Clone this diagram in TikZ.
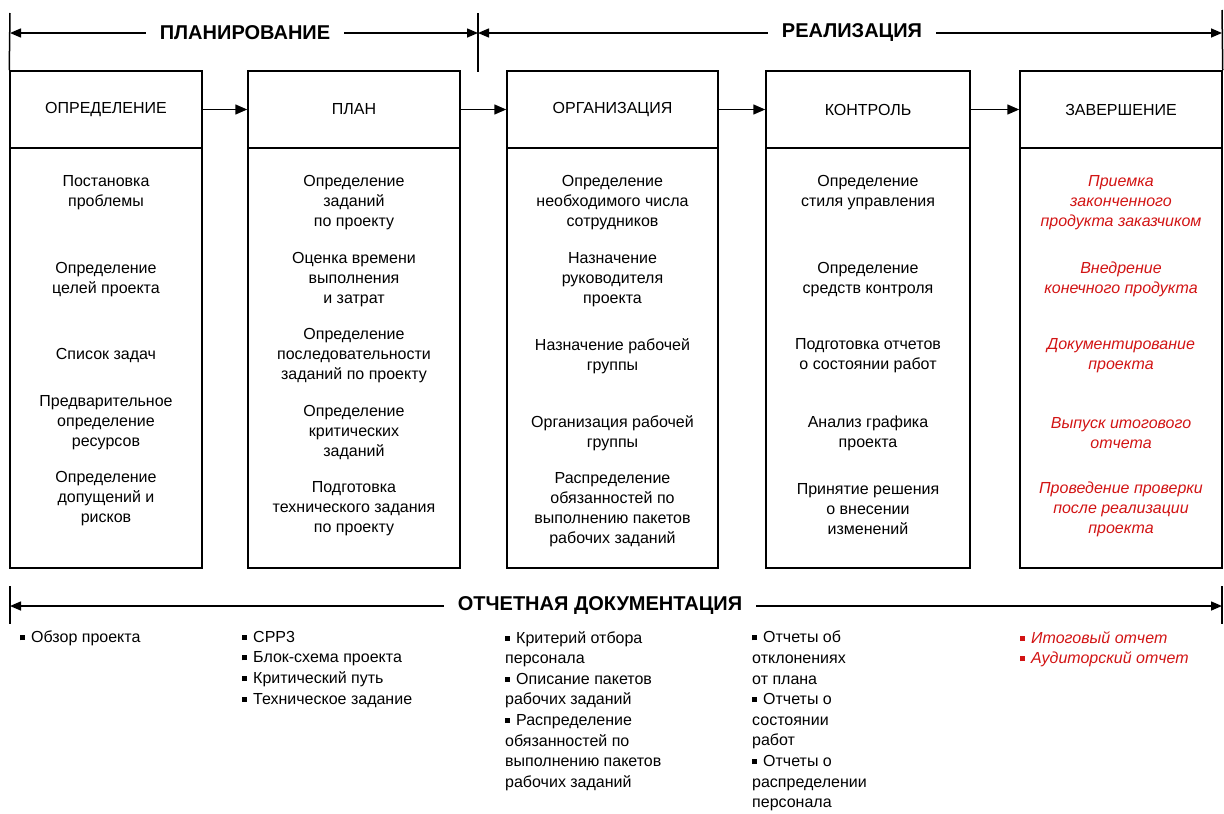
\documentclass[tikz,border=0pt]{standalone}
\usepackage{fontspec}
\setmainfont{Liberation Sans}
\usetikzlibrary{arrows.meta}
\definecolor{redt}{RGB}{210,20,20}
\newcommand{\sqb}{\raisebox{2.5pt}{\rule{5pt}{5pt}}\hspace{6pt}}
\begin{document}
\begin{tikzpicture}[x=1pt,y=-1pt,
  every node/.style={font=\fontsize{16}{20}\selectfont},
  hdr/.style={draw, line width=1.5pt, minimum height=77pt, inner sep=0pt},
  bodyb/.style={draw, line width=1.5pt, minimum height=420pt, inner sep=0pt},
  grp/.style={align=center, inner sep=0pt},
  rgrp/.style={grp, text=redt, font=\fontsize{16}{20}\selectfont\itshape},
  ttl/.style={font=\fontsize{20}{24}\selectfont\bfseries, fill=white, inner xsep=14pt, inner ysep=3pt},
  arr/.style={line width=1.5pt, -{Triangle[length=12pt,width=10pt]}},
  darr/.style={line width=1.5pt, {Triangle[length=11pt,width=9pt]}-{Triangle[length=11pt,width=9pt]}},
  ln/.style={line width=1.5pt},
  lst/.style={align=left, inner sep=0pt, anchor=north west, font=\fontsize{16}{20.6}\selectfont},
  rlst/.style={lst, text=redt, font=\fontsize{16}{20.6}\selectfont\itshape}
]
\useasboundingbox (0,0) rectangle (1224,814);

% headers
\node[hdr, minimum width=192pt] (h1) at (106,109.5) {ОПРЕДЕЛЕНИЕ};
\node[hdr, minimum width=212pt] (h2) at (354,109.5) {ПЛАН};
\node[hdr, minimum width=211pt] (h3) at (612.5,109.5) {ОРГАНИЗАЦИЯ};
\node[hdr, minimum width=204pt] (h4) at (868,109.5) {КОНТРОЛЬ};
\node[hdr, minimum width=202pt] (h5) at (1121,109.5) {ЗАВЕРШЕНИЕ};

% bodies
\node[bodyb, minimum width=192pt] (b1) at (106,358) {};
\node[bodyb, minimum width=212pt] (b2) at (354,358) {};
\node[bodyb, minimum width=211pt] (b3) at (612.5,358) {};
\node[bodyb, minimum width=204pt] (b4) at (868,358) {};
\node[bodyb, minimum width=202pt] (b5) at (1121,358) {};

% arrows between headers
\draw[arr] (h1.east) -- (h2.west);
\draw[arr] (h2.east) -- (h3.west);
\draw[arr] (h3.east) -- (h4.west);
\draw[arr] (h4.east) -- (h5.west);

% top phase arrows
\coordinate (tl) at (10,13);
\coordinate (tm) at (478,13);
\coordinate (tmb) at (478,72);
\coordinate (tr) at (1222,10);
\draw[ln] (tl) -- (h1.north west);
\draw[ln] (tm) -- (tmb);
\draw[ln] (tr) -- (h5.north east);
\coordinate (pa) at (10,33);
\coordinate (pb) at (478,33);
\coordinate (pc) at (1222,33);
\draw[darr] (pa) -- (pb);
\draw[darr] (pb) -- (pc);
\node[ttl] (plan) at (245,33) {ПЛАНИРОВАНИЕ};
\node[ttl] (real) at (852,33) {РЕАЛИЗАЦИЯ};

% box 1
\node[grp] (g11) at (106,193) {Постановка\\проблемы};
\node[grp] (g12) at (106,279.5) {Определение\\целей проекта};
\node[grp] (g13) at (106,356) {Список задач};
\node[grp] (g14) at (106,423) {Предварительное\\определение\\ресурсов};
\node[grp] (g15) at (106,499) {Определение\\допущений и\\рисков};

% box 2
\node[grp] (g21) at (354,202.5) {Определение\\заданий\\по проекту};
\node[grp] (g22) at (354,279.5) {Оценка времени\\выполнения\\и затрат};
\node[grp] (g23) at (354,356) {Определение\\последовательности\\заданий по проекту};
\node[grp] (g24) at (354,432.5) {Определение\\критических\\заданий};
\node[grp] (g25) at (354,509) {Подготовка\\технического задания\\по проекту};

% box 3
\node[grp] (g31) at (612.5,202.5) {Определение\\необходимого числа\\сотрудников};
\node[grp] (g32) at (612.5,279.5) {Назначение\\руководителя\\проекта};
\node[grp] (g33) at (612.5,356) {Назначение рабочей\\группы};
\node[grp] (g34) at (612.5,433) {Организация рабочей\\группы};
\node[grp] (g35) at (612.5,509.5) {Распределение\\обязанностей по\\выполнению пакетов\\рабочих заданий};

% box 4
\node[grp] (g41) at (868,193) {Определение\\стиля управления};
\node[grp] (g42) at (868,279.5) {Определение\\средств контроля};
\node[grp] (g43) at (868,356) {Подготовка отчетов\\о состоянии работ};
\node[grp] (g44) at (868,433) {Анализ графика\\проекта};
\node[grp] (g45) at (868,509) {Принятие решения\\о внесении\\изменений};

% box 5
\node[rgrp] (g51) at (1121,202.5) {Приемка\\законченного\\продукта заказчиком};
\node[rgrp] (g52) at (1121,279.5) {Внедрение\\конечного продукта};
\node[rgrp] (g53) at (1121,356) {Документирование\\проекта};
\node[rgrp] (g54) at (1121,433) {Выпуск итогового\\отчета};
\node[rgrp] (g55) at (1121,509) {Проведение проверки\\после реализации\\проекта};

% bottom documentation arrow
\coordinate (bl1) at (10,586);
\coordinate (bl2) at (10,624);
\coordinate (br1) at (1222,586);
\coordinate (br2) at (1222,624);
\draw[ln] (bl1) -- (bl2);
\draw[ln] (br1) -- (br2);
\coordinate (da) at (10,606);
\coordinate (db) at (1222,606);
\draw[darr] (da) -- (db);
\node[ttl] (doc) at (600,606) {ОТЧЕТНАЯ ДОКУМЕНТАЦИЯ};

% documentation lists
\node[lst] (l1) at (20,631) {\sqb Обзор проекта};
\node[lst] (l2) at (242,631) {\sqb СРР3\\\sqb Блок-схема проекта\\\sqb Критический путь\\\sqb Техническое задание};
\node[lst] (l3) at (505,631) {\sqb Критерий отбора\\персонала\\\sqb Описание пакетов\\рабочих заданий\\\sqb Распределение\\обязанностей по\\выполнению пакетов\\рабочих заданий};
\node[lst] (l4) at (752,631) {\sqb Отчеты об\\отклонениях\\от плана\\\sqb Отчеты о\\состоянии\\работ\\\sqb Отчеты о\\распределении\\персонала};
\node[rlst] (l5) at (1020,631) {\sqb Итоговый отчет\\\sqb Аудиторский отчет};
\end{tikzpicture}
\end{document}
